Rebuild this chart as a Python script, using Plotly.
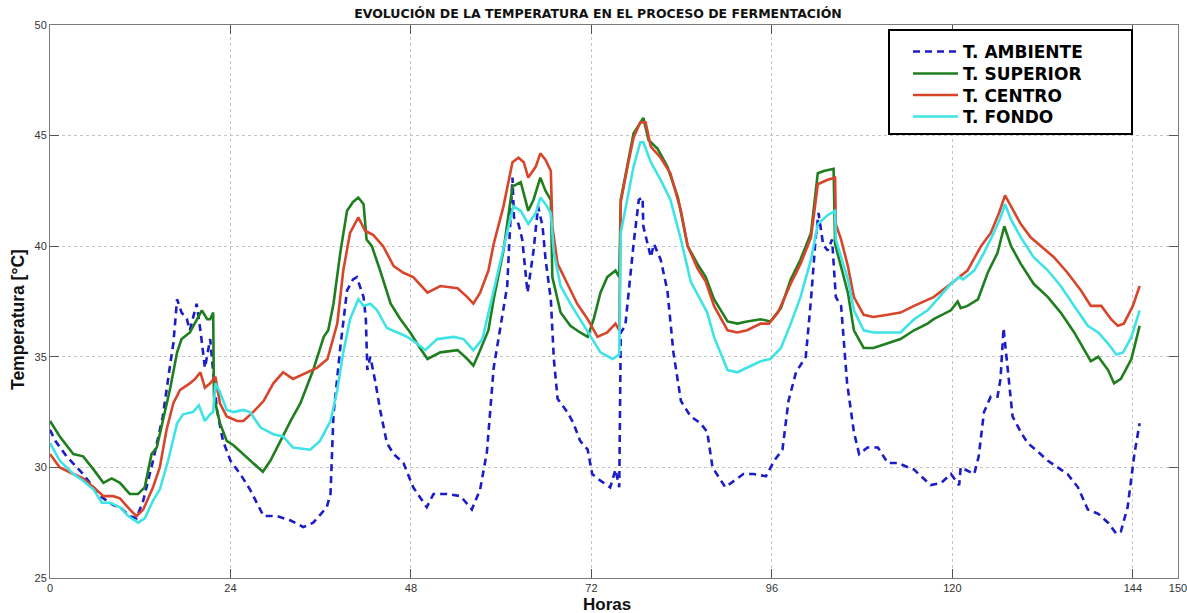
import plotly.graph_objects as go

# ---------------- data (hours, °C) ----------------
amb_h = [0, 0.7, 2.2, 4.4, 6.7, 8.4, 9.3, 10.6, 11.5, 12.4, 13.7, 15.0, 16.0, 16.4, 16.9, 17.5, 18.2, 18.6,
         19.5, 20.0, 20.6, 21.3, 21.7, 22.2, 23.0, 24.0, 25.3, 26.6, 28.4, 30.2, 32.0, 33.7, 35.0, 36.8, 37.3,
         37.7, 38.6, 39.5, 40.3, 40.8, 41.7, 42.0, 42.2, 42.6, 43.3, 43.9, 44.8, 45.7, 47.0, 48.3, 49.5, 50.1,
         51.0, 52.8, 54.6, 56.1, 57.2, 58.1, 59.0, 59.9, 60.8, 61.5, 61.7, 62.3, 62.8, 63.5, 63.9, 64.3, 64.9,
         65.5, 65.9, 66.6, 67.0, 67.5, 68.8, 69.6, 70.5, 71.5, 72.1, 73.2, 74.5, 75.2, 75.7, 75.9, 76.5, 77.6,
         78.3, 78.8, 78.9, 79.9, 80.3, 81.2, 82.1, 82.9, 83.9, 85.2, 86.5, 87.4, 88.1, 89.8, 91.0, 92.2, 93.6,
         95.2, 96.3, 97.4, 98.2, 99.2, 100.5, 101.2, 101.8, 102.2, 102.8, 103.4, 104.0, 104.5, 105.2, 106.0,
         106.9, 107.6, 108.7, 110.1, 111.4, 112.7, 114.9, 117.1, 118.5, 119.8, 120.9, 121.1, 122.9, 123.5,
         124.2, 125.1, 126.0, 126.4, 126.8, 127.3, 128.0, 129.1, 130.0, 131.4, 132.7, 134.0, 135.3, 136.7,
         138.0, 139.4, 140.7, 141.8, 142.4, 143.3, 144.2, 144.9]
amb_t = [31.7, 31.2, 30.5, 29.7, 28.7, 28.3, 28.2, 27.8, 27.7, 28.5, 30.3, 32.3, 34.7, 35.6, 37.6, 37.0, 36.7, 36.2,
         37.4, 36.2, 34.5, 35.8, 34.3, 32.6, 31.2, 30.3, 29.7, 29.0, 27.8, 27.8, 27.6, 27.3, 27.5, 28.2, 28.8,
         32.4, 35.4, 38.0, 38.5, 38.6, 37.7, 36.7, 34.4, 35.0, 33.8, 32.6, 31.1, 30.6, 30.2, 29.1, 28.5, 28.2,
         28.8, 28.8, 28.7, 28.1, 29.0, 30.7, 34.5, 36.3, 38.2, 43.1, 41.3, 41.0, 40.3, 37.9, 38.8, 39.8, 41.8,
         40.9, 39.4, 37.6, 34.9, 33.1, 32.5, 32.0, 31.2, 30.8, 29.7, 29.4, 29.1, 29.9, 29.1, 36.1, 36.4, 40.1,
         42.1, 42.2, 40.9, 39.5, 40.1, 39.4, 38.0, 35.2, 33.0, 32.3, 32.0, 31.6, 30.0, 29.1, 29.4, 29.7, 29.7,
         29.6, 30.3, 30.8, 33.0, 34.3, 35.0, 37.6, 40.3, 41.5, 40.1, 39.8, 40.3, 37.7, 37.3, 33.8,
         31.6, 30.6, 30.9, 30.9, 30.2, 30.2, 29.9, 29.2, 29.3, 29.7, 29.2, 30.0, 29.7, 30.5,
         32.5, 33.2, 33.2, 34.0, 36.3, 34.6, 32.3, 31.6, 31.1, 30.7, 30.3, 30.0, 29.7, 29.1,
         28.1, 27.9, 27.5, 27.0, 27.1, 28.2, 30.6, 32.0]

sup_h = [0, 1.3, 3.1, 4.4, 5.8, 7.1, 8.2, 9.3, 10.6, 11.7, 12.6, 13.5, 14.2, 15.0, 16.0, 16.9, 17.5, 18.6, 19.5,
         20.2, 20.9, 21.3, 21.7, 21.8, 22.6, 23.5, 24.4, 25.7, 27.0, 28.3, 29.3, 30.6, 32.0, 33.3, 35.0, 36.4,
         37.0, 37.7, 38.6, 39.5, 40.3, 41.0, 41.7, 42.1, 42.8, 43.9, 45.3, 46.6, 47.9, 49.2, 50.2, 51.9, 54.2,
         55.5, 56.3, 57.2, 58.3, 59.0, 60.3, 61.5, 62.6, 63.6, 64.3, 65.2, 65.9, 66.6, 66.8, 67.9, 69.2, 70.5,
         71.5, 72.3, 73.2, 74.1, 75.2, 75.7, 75.9, 77.6, 78.9, 79.6, 80.8, 82.1, 83.5, 84.8, 86.1, 87.2, 88.3,
         90.1, 91.4, 92.7, 94.5, 95.8, 97.2, 98.5, 99.8, 101.2, 102.1, 102.9, 104.2, 104.4, 105.2, 106.1, 106.9,
         108.2, 109.5, 111.4, 113.1, 114.9, 116.7, 117.5, 119.8, 120.7, 121.1, 122.0, 123.4, 124.7, 126.0,
         126.9, 127.8, 129.1, 130.8, 132.7, 134.4, 136.2, 137.5, 138.4, 139.4, 140.7, 141.5, 142.4, 143.8, 144.9]
sup_t = [32.1, 31.4, 30.6, 30.5, 29.9, 29.3, 29.5, 29.3, 28.8, 28.8, 29.1, 30.6, 30.9, 32.1, 33.6, 35.2, 35.8, 36.1, 36.7,
         37.1, 36.7, 36.7, 37.0, 33.2, 32.0, 31.2, 31.0, 30.6, 30.2, 29.8, 30.3, 31.2, 32.1, 32.9, 34.4, 35.9,
         36.2, 37.4, 39.7, 41.6, 42.0, 42.2, 41.9, 40.3, 40.0, 38.9, 37.4, 36.7, 36.1, 35.4, 34.9, 35.2, 35.3,
         34.9, 34.6, 35.3, 36.2, 37.6, 39.8, 42.7, 42.9, 41.6, 42.1, 43.1, 42.5, 42.1, 38.6, 37.0, 36.4, 36.1,
         35.9, 36.7, 37.9, 38.6, 38.9, 38.6, 42.1, 45.1, 45.8, 44.8, 44.4, 43.6, 42.2, 40.0, 39.2, 38.6, 37.6,
         36.6, 36.5, 36.6, 36.7, 36.6, 37.2, 38.5, 39.4, 40.6, 43.3, 43.4, 43.5, 40.1, 39.1, 37.9, 36.2,
         35.4, 35.4, 35.6, 35.8, 36.2, 36.5, 36.7, 37.1, 37.5, 37.2, 37.3, 37.6, 38.8, 39.7,
         40.9, 40.0, 39.2, 38.3, 37.7, 37.0, 36.1, 35.3, 34.8, 35.0, 34.4, 33.8, 34.0, 34.9, 36.4]

cen_h = [0, 1.3, 3.1, 4.4, 5.8, 7.1, 8.4, 9.3, 10.6, 11.5, 12.4, 13.7, 14.6, 15.5, 16.4, 17.3, 18.6, 19.3, 20.0,
         20.6, 21.3, 22.0, 22.6, 23.5, 24.9, 25.7, 27.0, 28.4, 29.7, 31.0, 32.3, 34.2, 35.5, 36.9, 38.2, 39.0,
         39.9, 41.0, 41.9, 43.0, 44.3, 45.7, 47.0, 48.3, 50.2, 51.9, 54.2, 55.5, 56.3, 57.2, 58.3, 59.0, 60.3,
         61.5, 62.3, 63.0, 63.6, 64.6, 65.2, 65.9, 66.6, 66.8, 67.5, 68.8, 70.1, 71.5, 72.8, 74.1, 75.2, 75.7,
         75.9, 76.8, 77.6, 78.5, 79.2, 79.9, 81.2, 82.5, 83.9, 84.8, 86.1, 87.2, 88.3, 90.1, 91.4, 92.7, 94.5,
         95.6, 96.8, 98.5, 99.8, 101.2, 102.1, 103.4, 104.4, 104.5, 105.2, 106.1, 106.9, 108.2, 109.5, 111.4,
         113.1, 114.9, 116.7, 117.5, 119.8, 122.0, 123.8, 125.1, 126.2, 127.0, 127.8, 129.1, 130.4, 131.8,
         133.5, 135.3, 137.1, 138.4, 139.8, 141.1, 142.0, 142.8, 144.0, 144.9]
cen_t = [30.6, 30.0, 29.7, 29.5, 29.1, 28.7, 28.7, 28.6, 28.1, 27.8, 28.1, 29.1, 30.0, 31.7, 32.9, 33.5, 33.8, 34.0, 34.3,
         33.6, 33.8, 34.1, 32.9, 32.3, 32.1, 32.1, 32.5, 33.0, 33.8, 34.3, 34.0, 34.3, 34.5, 34.9, 36.5, 38.9,
         40.6, 41.3, 40.7, 40.5, 40.0, 39.1, 38.8, 38.6, 37.9, 38.2, 38.1, 37.7, 37.4, 37.9, 38.9, 40.1, 41.8,
         43.8, 44.0, 43.8, 43.1, 43.6, 44.2, 43.9, 43.4, 40.9, 39.2, 38.3, 37.4, 36.7, 35.9, 36.1, 36.5, 36.2,
         42.0, 43.6, 44.9, 45.6, 45.6, 44.5, 44.0, 43.3, 41.6, 40.0, 39.0, 38.4, 37.3, 36.2, 36.1, 36.2, 36.5,
         36.5, 37.0, 38.3, 39.2, 40.4, 42.8, 43.0, 43.1, 41.0, 40.3, 39.1, 37.7, 36.9, 36.8, 36.9,
         37.0, 37.3, 37.6, 37.7, 38.3, 38.9, 40.0, 40.6, 41.5, 42.3, 41.8, 41.0, 40.4, 40.0,
         39.5, 38.8, 38.0, 37.3, 37.3, 36.7, 36.4, 36.5, 37.3, 38.2]

fon_h = [0, 1.3, 3.1, 4.4, 5.8, 6.9, 8.0, 9.3, 10.4, 11.7, 12.6, 13.7, 14.6, 15.7, 16.9, 17.7, 19.0, 19.8, 20.6,
         21.3, 21.7, 22.0, 22.6, 23.5, 24.4, 25.7, 26.6, 28.0, 29.7, 31.0, 32.3, 34.6, 35.9, 37.3, 38.2, 39.0,
         39.9, 41.0, 41.7, 42.6, 43.5, 44.8, 46.2, 47.5, 48.8, 49.9, 51.5, 53.7, 55.0, 56.3, 57.5, 58.3, 59.0,
         60.3, 61.6, 62.6, 63.6, 64.6, 65.2, 65.9, 66.6, 67.0, 67.9, 69.2, 70.5, 71.9, 73.2, 74.8, 75.7, 75.9,
         76.8, 77.6, 78.5, 78.9, 79.9, 81.2, 82.5, 83.9, 85.2, 86.5, 87.4, 88.3, 90.1, 91.4, 92.7, 94.5, 95.8,
         97.2, 98.5, 99.8, 101.2, 102.1, 103.4, 104.4, 104.5, 105.2, 106.1, 106.9, 108.2, 109.5, 111.4, 113.1,
         114.9, 116.7, 117.5, 119.8, 120.9, 121.4, 122.9, 124.2, 125.5, 126.4, 127.0, 127.8, 129.1, 130.8,
         132.7, 134.4, 136.2, 138.0, 139.4, 140.7, 141.8, 142.7, 143.8, 144.9]
fon_t = [31.1, 30.3, 29.7, 29.4, 29.0, 28.4, 28.4, 28.2, 27.8, 27.5, 27.7, 28.5, 29.0, 30.3, 32.0, 32.4, 32.5, 32.8, 32.1,
         32.4, 32.5, 33.8, 33.4, 32.6, 32.5, 32.6, 32.5, 31.8, 31.5, 31.4, 30.9, 30.8, 31.2, 32.1, 33.5, 35.2,
         36.7, 37.6, 37.3, 37.4, 37.1, 36.3, 36.1, 35.9, 35.6, 35.3, 35.8, 35.9, 35.8, 35.3, 35.8, 37.0, 37.9,
         40.0, 41.8, 41.6, 41.0, 41.5, 42.2, 41.9, 41.5, 39.7, 38.2, 37.4, 36.7, 35.9, 35.2, 34.9, 35.1, 40.6,
         42.1, 43.6, 44.7, 44.7, 43.8, 43.0, 42.1, 40.3, 38.4, 37.6, 37.0, 35.9, 34.4, 34.3, 34.5, 34.8, 34.9,
         35.4, 36.5, 37.7, 39.4, 41.0, 41.4, 41.6, 40.3, 39.5, 38.5, 37.1, 36.2, 36.1, 36.1, 36.1,
         36.7, 37.1, 37.4, 38.3, 38.6, 38.5, 38.9, 39.7, 40.6, 41.3, 41.9, 41.2, 40.4, 39.5,
         38.9, 38.2, 37.3, 36.4, 36.1, 35.6, 35.1, 35.2, 35.9, 37.1]

series_names = ["T. AMBIENTE", "T. SUPERIOR", "T. CENTRO", "T. FONDO"]
x_ticks = [0, 24, 48, 72, 96, 120, 144, 150]
y_ticks = [25, 30, 35, 40, 45, 50]

# ---------------- figure ----------------
W, H = 1187, 613
L, R, T, B = 50, 9, 25, 35
pw, ph = W - L - R, H - T - B


def px2x(p):
    return (p - L) / pw


def py2y(p):
    return (H - B - p) / ph


styles = [
    dict(color="#1c1cc8", width=2.6, dash="7px,5px"),
    dict(color="#1f7f1f", width=2.6),
    dict(color="#d8452b", width=2.6),
    dict(color="#3fe3e6", width=2.6),
]
xs = [amb_h, sup_h, cen_h, fon_h]
ys = [amb_t, sup_t, cen_t, fon_t]
legend_ids = ["legend", "legend2", "legend3", "legend4"]
legend_rows = [52, 74, 95.5, 117]

fig = go.Figure()
for name, x, y, st, lid in zip(series_names, xs, ys, styles, legend_ids):
    fig.add_trace(go.Scatter(x=x, y=y, name="<b>" + name + "</b>", mode="lines",
                             line=st, legend=lid))

axis_common = dict(showline=True, linecolor="#7a7a7a", linewidth=1, mirror="ticks",
                   ticks="inside", ticklen=9, tickcolor="#555", tickwidth=1,
                   showgrid=True, gridcolor="#c4c4c4", griddash="dot", gridwidth=1,
                   zeroline=False, ticklabeloverflow="allow", automargin=False,
                   tickfont=dict(family="Liberation Sans, Arial", size=11, color="#333"))

fig.update_xaxes(range=[0, 150], tickvals=x_ticks, ticktext=[str(v) for v in x_ticks], **axis_common)
fig.update_yaxes(range=[25, 50], tickvals=y_ticks, ticktext=[str(v) for v in y_ticks], **axis_common)

legend_common = dict(xanchor="left", yanchor="middle", bgcolor="rgba(0,0,0,0)", borderwidth=0,
                     itemwidth=45, font=dict(family="DejaVu Sans", size=17, color="black"))
legends = {}
for lid, row in zip(legend_ids, legend_rows):
    legends[lid] = dict(x=px2x(908), y=py2y(row), **legend_common)

fig.update_layout(
    width=W, height=H,
    margin=dict(l=L, r=R, t=T, b=B, autoexpand=False),
    paper_bgcolor="white", plot_bgcolor="white",
    title=dict(text="<b>EVOLUCIÓN DE LA TEMPERATURA EN EL PROCESO DE FERMENTACIÓN</b>",
               x=598 / W, xanchor="center", y=1 - 14 / H, yanchor="middle",
               font=dict(family="DejaVu Sans", size=12.5, color="#111")),
    showlegend=True,
    shapes=[dict(type="rect", xref="paper", yref="paper",
                 x0=px2x(889), x1=px2x(1132), y0=py2y(134), y1=py2y(30),
                 line=dict(color="black", width=2), fillcolor="white", layer="above")],
    annotations=[
        dict(text="<b>Horas</b>", xref="paper", yref="paper", x=px2x(607), y=py2y(604),
             xanchor="center", yanchor="middle", showarrow=False,
             font=dict(family="Liberation Sans, Arial", size=17, color="#111")),
        dict(text="<b>Temperatura [°C]</b>", xref="paper", yref="paper", x=px2x(18), y=py2y(320),
             xanchor="center", yanchor="middle", showarrow=False, textangle=-90,
             font=dict(family="Liberation Sans, Arial", size=17.5, color="#111")),
    ],
    **legends,
)

fig.write_html("out.html", config={"displayModeBar": False},
               post_script="document.body.style.margin='0';document.body.style.padding='0';")
